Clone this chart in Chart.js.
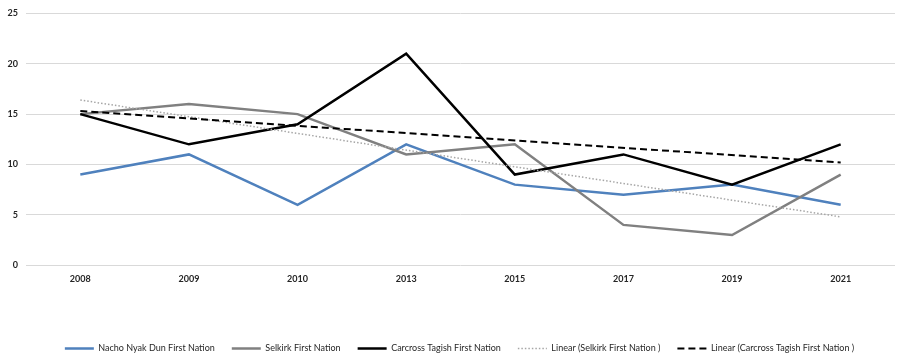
<!DOCTYPE html>
<html>
<head>
  <title>First Nation chart</title>
  <script src="https://cdn.jsdelivr.net/npm/chart.js"></script>
  <style>
    body {
      margin: 0;
      background: #fff;
    }

    .chart-container {
      width: 900px;
      height: 359px;
    }
  </style>
</head>
<body>
  <div class="chart-container">
    <canvas id="chart"></canvas>
  </div>

  <script>
    var years = ['2008', '2009', '2010', '2013', '2015', '2017', '2019', '2021'];
    var nachoNyakDun = [9, 11, 6, 12, 8, 7, 8, 6];
    var selkirk = [15, 16, 15, 11, 12, 4, 3, 9];
    var carcrossTagish = [15, 12, 14, 21, 9, 11, 8, 12];
    // trend lines: only the two ends, joined straight
    var selkirkTrend = [16.4, null, null, null, null, null, null, 4.8];
    var carcrossTrend = [15.3, null, null, null, null, null, null, 10.2];
    var yTicks = [0, 5, 10, 15, 20, 25];

    var font = 'Lato, "Open Sans", sans-serif';

    // nudge the legend a little right, like the original
    var legendShift = {
      id: 'legendShift',
      afterLayout: function (c) {
        c.legend.left += 12;
        c.legend.right += 12;
      }
    };

    var ctx = document.getElementById('chart').getContext('2d');
    var chart = new Chart(ctx, {
      type: 'line',
      data: {
        labels: years,
        datasets: [{
          label: 'Nacho Nyak Dun First Nation',
          data: nachoNyakDun,
          borderColor: '#4f81bd',
          borderWidth: 2.5,
          order: 5
        }, {
          label: 'Selkirk First Nation',
          data: selkirk,
          borderColor: '#808080',
          borderWidth: 2.5,
          order: 4
        }, {
          label: 'Carcross Tagish First Nation',
          data: carcrossTagish,
          borderColor: '#000000',
          borderWidth: 2.5,
          order: 3
        }, {
          label: 'Linear (Selkirk First Nation )',
          data: selkirkTrend,
          borderColor: '#a6a6a6',
          borderWidth: 1.5,
          borderDash: [1.5, 2],
          spanGaps: true,
          order: 2
        }, {
          label: 'Linear (Carcross Tagish First Nation )',
          data: carcrossTrend,
          borderColor: '#000000',
          borderWidth: 2,
          borderDash: [7, 4],
          spanGaps: true,
          order: 1
        }]
      },
      plugins: [legendShift],
      options: {
        responsive: true,
        maintainAspectRatio: false,
        animation: false,
        elements: {
          point: { radius: 0, hoverRadius: 0 },
          line: { tension: 0, fill: false, borderCapStyle: 'butt' }
        },
        layout: {
          padding: { left: 0, right: 5, top: 1, bottom: -4 }
        },
        plugins: {
          tooltip: { enabled: false },
          legend: {
            position: 'bottom',
            labels: {
              usePointStyle: true,
              pointStyle: 'line',
              pointStyleWidth: 29,
              padding: 17,
              color: '#262626',
              font: { family: font, size: 9 },
              sort: function (a, b) { return a.datasetIndex - b.datasetIndex; },
              generateLabels: function (c) {
                var items = Chart.defaults.plugins.legend.labels.generateLabels(c);
                items.forEach(function (it) {
                  var ds = c.data.datasets[it.datasetIndex];
                  it.strokeStyle = ds.borderColor;
                  it.lineWidth = ds.borderWidth;
                  it.lineDash = ds.borderDash || [];
                });
                return items;
              }
            }
          }
        },
        scales: {
          x: {
            offset: true,
            grid: { display: false, drawTicks: false },
            border: { display: false },
            ticks: {
              color: '#262626',
              padding: 8,
              maxRotation: 0,
              font: { family: font, size: 9, weight: 'bold' }
            },
            afterFit: function (scale) {
              scale.height += 35;
            }
          },
          y: {
            min: 0,
            max: 25,
            afterBuildTicks: function (scale) {
              scale.ticks = yTicks.map(function (v) { return { value: v }; });
            },
            grid: { color: '#d9d9d9', lineWidth: 1, drawTicks: false },
            border: { display: false },
            ticks: {
              color: '#262626',
              padding: 8,
              font: { family: font, size: 9, weight: 'bold' }
            },
            afterFit: function (scale) {
              scale.width = 26;
            }
          }
        }
      }
    });
  </script>
</body>
</html>
